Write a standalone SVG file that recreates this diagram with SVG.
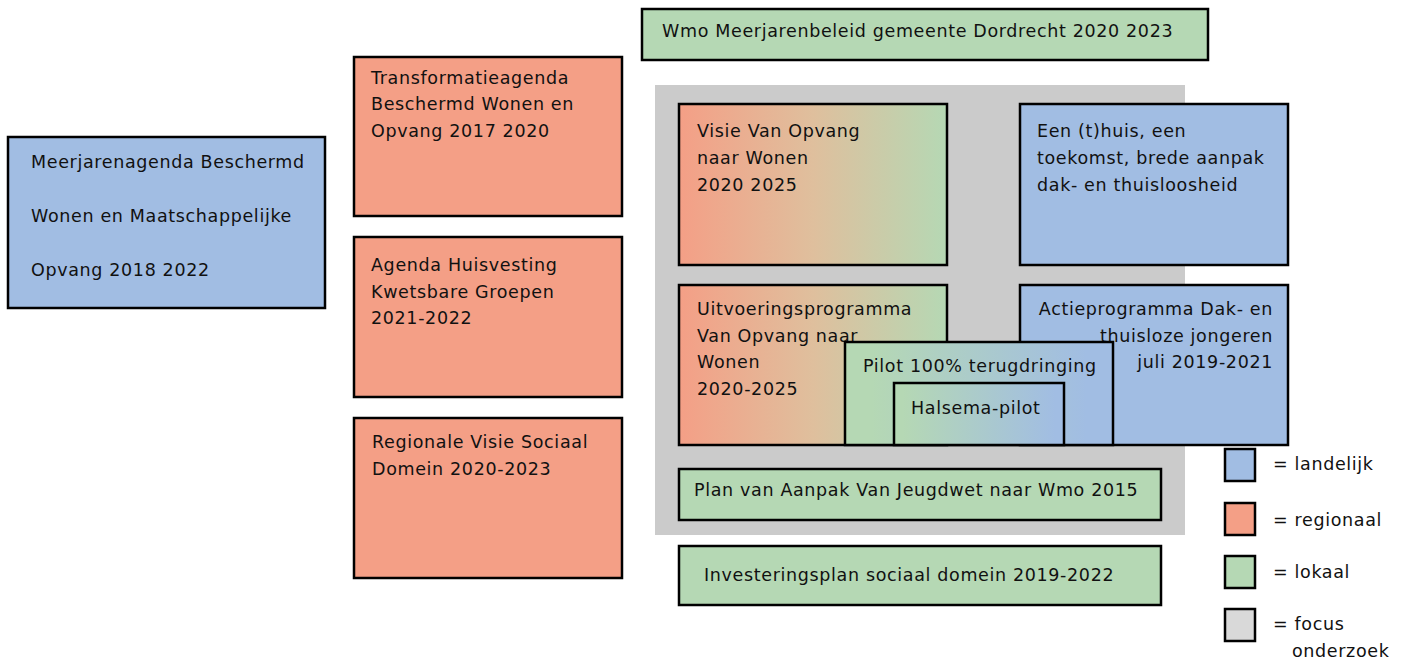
<svg xmlns="http://www.w3.org/2000/svg" width="1402" height="659" viewBox="0 0 1402 659">
<style>
text{font-family:"DejaVu Sans","Verdana",sans-serif;font-size:17.5px;letter-spacing:0.65px;fill:#111}
.b{stroke:#000;stroke-width:2.5}
.blue{fill:#a1bde3}
.red{fill:#f49f86}
.green{fill:#b5d8b4}
.end{text-anchor:end}
</style>
<defs>
<linearGradient id="rg" x1="0" y1="0" x2="1" y2="0">
<stop offset="0" stop-color="#f49f86"/>
<stop offset="0.5" stop-color="#dfbf9d"/>
<stop offset="1" stop-color="#b5d8b4"/>
</linearGradient>
<linearGradient id="gb" x1="0" y1="0" x2="1" y2="0">
<stop offset="0.1" stop-color="#b5d8b4"/>
<stop offset="0.9" stop-color="#a1bde3"/>
</linearGradient>
<linearGradient id="gb2" x1="0" y1="0" x2="1" y2="0">
<stop offset="0.05" stop-color="#b5d8b4"/>
<stop offset="0.95" stop-color="#a1bde3"/>
</linearGradient>
</defs>
<rect x="0" y="0" width="1402" height="659" fill="#fff"/>
<g id="focus-area"><rect x="655" y="85" width="530" height="450" fill="#cbcbcb"/></g>
<g id="wmo"><rect class="b green" x="642" y="9" width="566" height="51"/><text x="662" y="37">Wmo Meerjarenbeleid gemeente Dordrecht 2020 2023</text></g>
<g id="meerjarenagenda"><rect class="b blue" x="8" y="137" width="317" height="171"/>
<text x="31" y="168">Meerjarenagenda Beschermd</text><text x="31" y="222">Wonen en Maatschappelijke</text><text x="31" y="276">Opvang 2018 2022</text></g>
<g id="transformatieagenda"><rect class="b red" x="354" y="57" width="268" height="159"/>
<text x="371" y="84">Transformatieagenda</text><text x="371" y="110">Beschermd Wonen en</text><text x="371" y="137">Opvang 2017 2020</text></g>
<g id="agenda-huisvesting"><rect class="b red" x="354" y="237" width="268" height="160"/>
<text x="371" y="271">Agenda Huisvesting</text><text x="371" y="298">Kwetsbare Groepen</text><text x="371" y="324">2021-2022</text></g>
<g id="regionale-visie"><rect class="b red" x="354" y="418" width="268" height="160"/>
<text x="372" y="448">Regionale Visie Sociaal</text><text x="372" y="475">Domein 2020-2023</text></g>
<g id="visie"><rect class="b" fill="url(#rg)" x="679" y="104" width="268" height="161"/>
<text x="697" y="137">Visie Van Opvang</text><text x="697" y="164">naar Wonen</text><text x="697" y="191">2020 2025</text></g>
<g id="een-thuis"><rect class="b blue" x="1020" y="104" width="268" height="161"/>
<text x="1037" y="137">Een (t)huis, een</text><text x="1037" y="164">toekomst, brede aanpak</text><text x="1037" y="191">dak- en thuisloosheid</text></g>
<g id="uitvoeringsprogramma"><rect class="b" fill="url(#rg)" x="679" y="285" width="268" height="160"/>
<text x="697" y="315">Uitvoeringsprogramma</text><text x="697" y="342">Van Opvang naar</text><text x="697" y="368">Wonen</text><text x="697" y="395">2020-2025</text></g>
<g id="actieprogramma"><rect class="b blue" x="1020" y="285" width="268" height="160"/>
<text class="end" x="1273" y="315">Actieprogramma Dak- en</text><text class="end" x="1273" y="342">thuisloze jongeren</text><text class="end" x="1273" y="368">juli 2019-2021</text></g>
<g id="pilot"><rect class="b" fill="url(#gb)" x="845" y="342" width="268" height="103"/>
<text x="863" y="372">Pilot 100% terugdringing</text></g>
<g id="halsema"><rect class="b" fill="url(#gb2)" x="894" y="383" width="170" height="62"/>
<text x="911" y="414">Halsema-pilot</text></g>
<g id="plan-van-aanpak"><rect class="b green" x="679" y="469" width="482" height="51"/>
<text x="694" y="496">Plan van Aanpak Van Jeugdwet naar Wmo 2015</text></g>
<g id="investeringsplan"><rect class="b green" x="679" y="546" width="482" height="59"/>
<text x="704" y="581">Investeringsplan sociaal domein 2019-2022</text></g>
<g id="legend">
<rect class="b blue" x="1225" y="449" width="30" height="32"/><text x="1273" y="470">= landelijk</text>
<rect class="b red" x="1225" y="503" width="30" height="32"/><text x="1273" y="526">= regionaal</text>
<rect class="b" fill="#b5d8b4" x="1225" y="556" width="30" height="32"/><text x="1273" y="578">= lokaal</text>
<rect class="b" fill="#d9d9d9" x="1225" y="609" width="30" height="32"/><text x="1273" y="630">= focus</text><text x="1292" y="657">onderzoek</text>
</g>
<g id="connectors"></g>
</svg>
